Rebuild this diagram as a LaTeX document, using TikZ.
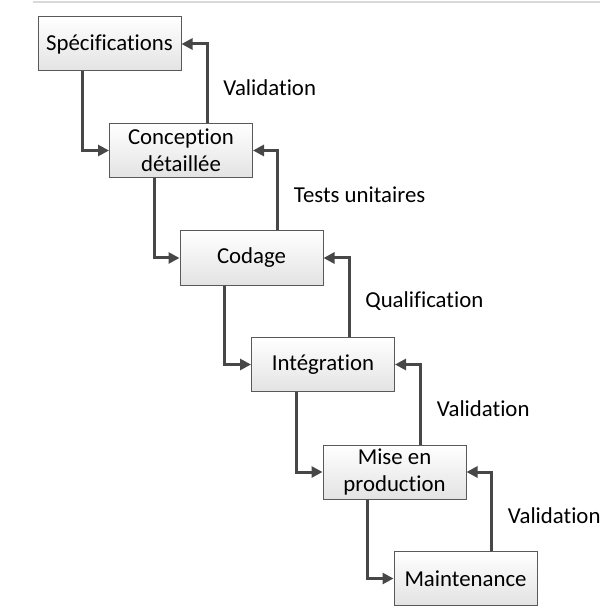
\documentclass[tikz,border=0pt]{standalone}
\usepackage{fontspec}
\setmainfont{Carlito}[Ligatures=NoCommon]
\usetikzlibrary{arrows.meta}
\usetikzlibrary{positioning}

\begin{document}
\begin{tikzpicture}[x=0.5pt,y=-0.5pt,
phase/.style={draw=black!65,line width=0.5pt,top color=white,bottom color=black!11,minimum width=71.5pt,minimum height=27pt,inner sep=0pt,align=center,font=\fontsize{11.4}{13.4}\selectfont},
flow/.style={draw=black!72,line width=1.5pt,-{Triangle[length=5.5pt,width=5.5pt]}},
lbl/.style={anchor=west,inner sep=0pt,font=\fontsize{11.4}{13.4}\selectfont}]

\useasboundingbox (0,0) rectangle (611,614);
\draw[black!15,line width=0.6pt] (33,2) -- (600,2);

\node[phase] (spec) at (109.5,44) {Spécifications};
\node[phase] (conc) at (181,150.5) {Conception\\détaillée};
\node[phase] (cod) at (251.5,258) {Codage};
\node[phase] (integ) at (323,364.5) {Intégration};
\node[phase] (prod) at (394.5,472) {Mise en\\production};
\node[phase] (maint) at (465.5,578.5) {Maintenance};

\foreach \up/\low/\txt in {spec/conc/Validation,conc/cod/Tests unitaires,cod/integ/Qualification,integ/prod/Validation,prod/maint/Validation}{
  \draw[flow] ([xshift=22.5pt]\up.south west) |- (\low.west);
  \draw[flow] ([xshift=49pt]\low.north west) |- (\up.east);
  \node[lbl] (lab-\low) at ([xshift=57pt,yshift=17.75pt]\low.north west) {\txt};
}
\end{tikzpicture}
\end{document}
